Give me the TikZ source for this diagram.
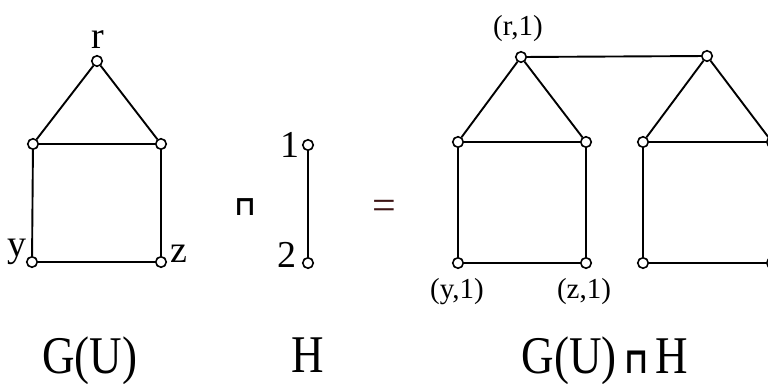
\documentclass[tikz,border=0pt]{standalone}
\usepackage{fontspec}
\setmainfont{Liberation Serif}
\newfontfamily\opfont{DejaVu Sans}
\begin{document}
\begin{tikzpicture}[x=1pt,y=-1pt,
  vtx/.style={circle,draw,line width=1.6pt,fill=white,inner sep=0pt,minimum size=10.5pt},
  edge/.style={line width=1.9pt},
  biglab/.style={anchor=base,inner sep=0pt,font=\fontsize{38}{40}\selectfont},
  pairlab/.style={anchor=base,inner sep=0pt,font=\fontsize{29}{32}\selectfont},
  title/.style={anchor=base,inner sep=0pt,font=\fontsize{53}{56}\selectfont,xscale=0.85}]
\useasboundingbox (0,0) rectangle (768,383);
\clip (0,0) rectangle (768,383);
% G(U)
\node[vtx] (r) at (97,61) {};
\node[vtx] (a) at (33,144) {};
\node[vtx] (b) at (161,144) {};
\node[vtx] (y) at (32,262) {};
\node[vtx] (z) at (161,262) {};
\draw[edge] (r) -- (a) (r) -- (b) (a) -- (b) (a) -- (y) (b) -- (z) (y) -- (z);
\node[biglab] (lr) at (98,48) {r};
\node[biglab] (ly) at (17,256) {y};
\node[biglab] (lz) at (179,262) {z};
% operator
\node[anchor=base,inner sep=0pt,font=\opfont\bfseries\fontsize{27}{30}\selectfont] (op) at (245,215) {⊓};
% H
\node[vtx] (h1) at (308,145) {};
\node[vtx] (h2) at (308,263) {};
\draw[edge] (h1) -- (h2);
\node[biglab] (l1) at (290,157) {1};
\node[biglab] (l2) at (287,267) {2};
\node[anchor=base,inner sep=0pt,font=\fontsize{42}{44}\selectfont,text={rgb,255:red,60;green,20;blue,20}] (eq) at (384,219) {=};
% product, copy 1
\node[vtx] (r1) at (521,57) {};
\node[vtx] (a1) at (458,142) {};
\node[vtx] (b1) at (586,142) {};
\node[vtx] (y1) at (458,263) {};
\node[vtx] (z1) at (586,263) {};
% copy 2
\node[vtx] (r2) at (707,56) {};
\node[vtx] (a2) at (643,142) {};
\node[vtx] (b2) at (772,142) {};
\node[vtx] (y2) at (643,263) {};
\node[vtx] (z2) at (772,263) {};
\draw[edge] (r1) -- (a1) (r1) -- (b1) (a1) -- (b1) (a1) -- (y1) (b1) -- (z1) (y1) -- (z1);
\draw[edge] (r2) -- (a2) (r2) -- (b2) (a2) -- (b2) (a2) -- (y2) (b2) -- (z2) (y2) -- (z2);
\draw[edge] (r1) -- (r2);
\node[pairlab] (lr1) at (518,35) {(r,1)};
\node[pairlab] (ly1) at (457,298) {(y,1)};
\node[pairlab] (lz1) at (584,298) {(z,1)};
% titles
\node[title] (tG) at (90,373) {G(U)};
\node[title] (tH) at (308,372) {H};
\node[title] (tGH) at (605,373) {G(U)\,{\opfont\bfseries\fontsize{36}{38}\selectfont ⊓}\,H};
\end{tikzpicture}
\end{document}
